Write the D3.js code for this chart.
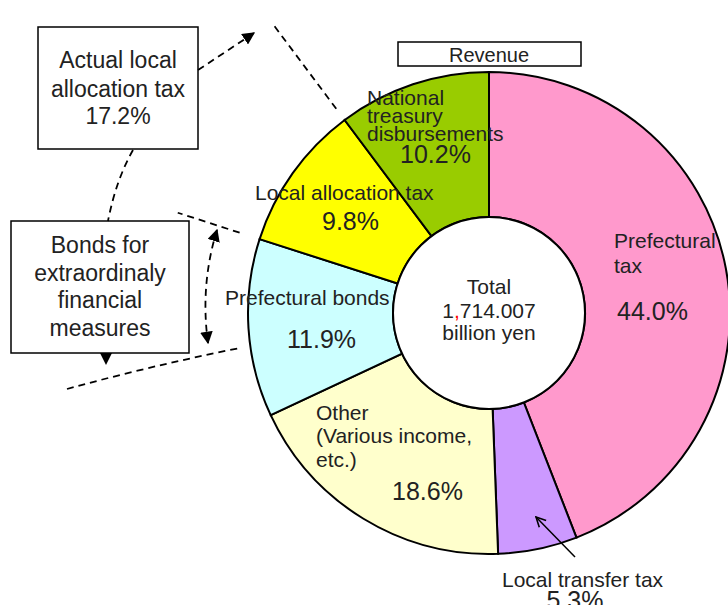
<!DOCTYPE html>
<html>
<head>
<meta charset="utf-8">
<script src="https://cdn.jsdelivr.net/npm/d3@7"></script>
<style>
  body { margin: 0; background: #fff; }
  svg text { font-family: "Liberation Sans", Arial, sans-serif; fill: #222; }
</style>
</head>
<body>
<div class="pie-container"></div>
<script>
//Data
const categories = ['Prefectural tax', 'Local transfer tax', 'Other (Various income, etc.)',
    'Prefectural bonds', 'Local allocation tax', 'National treasury disbursements'];
const shares = [44.0, 5.3, 18.6, 11.9, 9.8, 10.2];
const sliceColors = ['#FF99CC', '#CC99FF', '#FFFFCC', '#CCFFFF', '#FFFF00', '#99CC00'];
const totalLines = ['Total', '1', ',', '714.007', 'billion yen'];
const actualAllocation = ['Actual local', 'allocation tax', '17.2%'];
const bondsNote = ['Bonds for', 'extraordinaly', 'financial', 'measures'];

//Label layout, offsets from the centre of the ring
const labelLayout = [
    {lines: [['Prefectural', 125, -65], ['tax', 125, -40]], pct: [128, 7]},
    {lines: [['Local transfer tax', 13, 274]], pct: [86, 296], anchor: 'middle'},
    {lines: [['Other', -173, 107], ['(Various income,', -173, 130], ['etc.)', -173, 154]], pct: [-97, 187]},
    {lines: [['Prefectural bonds', -264, -8]], pct: [-202, 35]},
    {lines: [['Local allocation tax', -234, -113]], pct: [-167, -83]},
    {lines: [['National', -122, -208], ['treasury', -122, -190], ['disbursements', -122, -172]], pct: [-89, -150]}
];

const width = 728, height = 605;
const cx = 489, cy = 313;
const outerR = 241, innerR = 96;

const svg = d3.select('.pie-container')
    .append('svg')
    .attr('width', width)
    .attr('height', height);

const defs = svg.append('defs');
defs.append('marker')
    .attr('id', 'solid-head')
    .attr('viewBox', '0 0 10 10')
    .attr('refX', 9).attr('refY', 5)
    .attr('markerWidth', 7).attr('markerHeight', 7)
    .attr('markerUnits', 'strokeWidth')
    .attr('orient', 'auto-start-reverse')
    .append('path')
    .attr('d', 'M0,0 L10,5 L0,10 Z')
    .style('fill', '#000');

defs.append('marker')
    .attr('id', 'open-head')
    .attr('viewBox', '0 0 10 10')
    .attr('refX', 9).attr('refY', 5)
    .attr('markerWidth', 8).attr('markerHeight', 8)
    .attr('markerUnits', 'strokeWidth')
    .attr('orient', 'auto')
    .append('path')
    .attr('d', 'M1,1 L9,5 L1,9')
    .style('fill', 'none')
    .style('stroke', '#000')
    .style('stroke-width', 1.3);

//Pie layout
const pie = d3.pie().sort(null).value(d => d);
const arcs = pie(shares);
const arc = d3.arc().innerRadius(innerR).outerRadius(outerR);

const g = svg.append('g').attr('transform', `translate(${cx}, ${cy})`);

g.selectAll('.slice')
    .data(arcs)
    .enter()
    .append('path')
    .attr('class', 'slice')
    .attr('d', arc)
    .style('fill', (d, i) => sliceColors[i])
    .style('stroke', '#000')
    .style('stroke-width', 2);

g.append('circle')
    .attr('r', innerR)
    .style('fill', '#fff')
    .style('stroke', '#000')
    .style('stroke-width', 2);

//Radial dashed guides from slice boundaries
const polar = (a, r) => [Math.sin(a) * r, -Math.cos(a) * r];
const guides = [
    {angle: arcs[5].startAngle, r0: 255, r1: 362},
    {angle: arcs[4].startAngle, r0: 262, r1: 327}
];
g.selectAll('.guide')
    .data(guides)
    .enter()
    .append('line')
    .attr('class', 'guide')
    .attr('x1', d => polar(d.angle, d.r0)[0])
    .attr('y1', d => polar(d.angle, d.r0)[1])
    .attr('x2', d => polar(d.angle, d.r1)[0])
    .attr('y2', d => polar(d.angle, d.r1)[1])
    .style('stroke', '#000')
    .style('stroke-width', 1.8)
    .style('stroke-dasharray', '7,5');

//Slice labels
labelLayout.forEach((lab, i) => {
    lab.lines.forEach(l => {
        g.append('text')
            .attr('x', l[1]).attr('y', l[2])
            .attr('text-anchor', 'start')
            .style('font-size', '21px')
            .text(l[0]);
    });
    g.append('text')
        .attr('x', lab.pct[0]).attr('y', lab.pct[1])
        .attr('text-anchor', lab.anchor || 'start')
        .style('font-size', '25px')
        .text(shares[i].toFixed(1) + '%');
});

//Arrow to local transfer tax
g.append('line')
    .attr('x1', 86).attr('y1', 244)
    .attr('x2', 47).attr('y2', 204)
    .style('stroke', '#000')
    .style('stroke-width', 1.5)
    .attr('marker-end', 'url(#open-head)');

//Centre total
const centre = g.append('text')
    .attr('text-anchor', 'middle')
    .style('font-size', '21px');
centre.append('tspan').attr('x', 0).attr('y', -19).text(totalLines[0]);
const num = centre.append('tspan').attr('x', 0).attr('y', 5);
num.append('tspan').text(totalLines[1]);
num.append('tspan').style('fill', '#ff0000').text(totalLines[2]);
num.append('tspan').text(totalLines[3]);
centre.append('tspan').attr('x', 0).attr('y', 27).text(totalLines[4]);

//Header box
svg.append('rect')
    .attr('x', 398).attr('y', 42)
    .attr('width', 183).attr('height', 24)
    .style('fill', '#fff')
    .style('stroke', '#000')
    .style('stroke-width', 1.5);
svg.append('text')
    .attr('x', 489).attr('y', 62)
    .attr('text-anchor', 'middle')
    .style('font-size', '20px')
    .text('Revenue');

//Annotation boxes
function noteBox(x, y, w, h, lines, baselines){
    svg.append('rect')
        .attr('x', x).attr('y', y)
        .attr('width', w).attr('height', h)
        .style('fill', '#fff')
        .style('stroke', '#000')
        .style('stroke-width', 1.5);
    const t = svg.append('text')
        .attr('text-anchor', 'middle')
        .style('font-size', '23px');
    lines.forEach((l, i) => {
        t.append('tspan').attr('x', x + w / 2).attr('y', baselines[i]).text(l);
    });
}
noteBox(38, 27, 160, 122, actualAllocation, [68, 97, 124]);
noteBox(11, 221, 178, 132, bondsNote, [253, 281, 308, 336]);

//Dashed connectors
const dashed = p => svg.append('path')
    .attr('d', p)
    .style('fill', 'none')
    .style('stroke', '#000')
    .style('stroke-width', 1.8)
    .style('stroke-dasharray', '7,5');

dashed('M198,70 L254,33').attr('marker-end', 'url(#solid-head)');
dashed('M133,150 Q116,180 108,221');
dashed('M217,230 Q200,285 208,343')
    .attr('marker-start', 'url(#solid-head)')
    .attr('marker-end', 'url(#solid-head)');
dashed('M67,389 Q150,366 240,348');

//Small pointer below the bonds box
svg.append('path')
    .attr('d', 'M100,353 L112,353 L106,365 Z')
    .style('fill', '#000');
</script>
</body>
</html>
